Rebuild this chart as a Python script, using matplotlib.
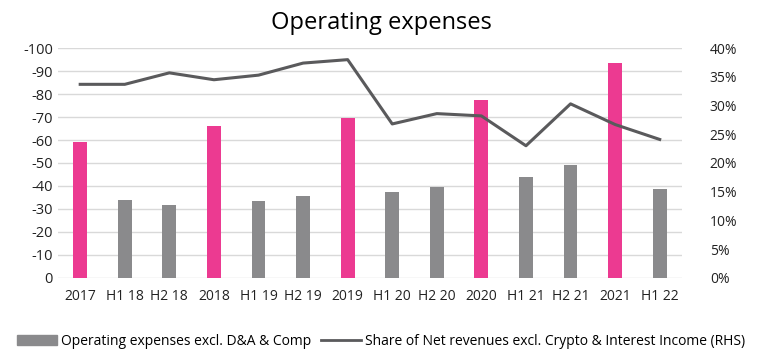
import matplotlib.pyplot as plt
from matplotlib.patches import Patch
from matplotlib.lines import Line2D

plt.rcParams['font.family'] = ['Open Sans', 'DejaVu Sans']
plt.rcParams['axes.unicode_minus'] = False

periods = ["2017", "H1 18", "H2 18", "2018", "H1 19", "H2 19", "2019",
           "H1 20", "H2 20", "2020", "H1 21", "H2 21", "2021", "H1 22"]
opex = [-59, -34, -31.5, -66, -33.5, -35.5, -69.5,
        -37.5, -39.5, -77.5, -44, -49, -93.5, -38.5]
share = [33.7, 33.7, 35.7, 34.5, 35.3, 37.4, 38.0,
         26.8, 28.6, 28.2, 23.0, 30.3, 26.7, 24.1]
full_year = {"2017", "2018", "2019", "2020", "2021"}

pink = "#EC3A91"
grey = "#8A8A8C"
line_col = "#5A5A5C"

fig = plt.figure(figsize=(7.62, 3.49), dpi=100)
ax = fig.add_axes([0.076, 0.204, 0.819, 0.658])
x = range(len(periods))
colors = [pink if p in full_year else grey for p in periods]
ax.bar(x, opex, width=0.31, color=colors, zorder=3)

ax.set_ylim(0, -100)
ax.set_yticks(range(0, -101, -10))
ax.set_xlim(-0.5, len(periods) - 0.5)
ax.set_xticks(list(x))
ax.set_xticklabels(periods)
ax.grid(axis="y", color="#D9D9D9", linewidth=1, zorder=0)
for s in ax.spines.values():
    s.set_visible(False)
ax.tick_params(length=0, labelsize=10.5, colors="#222222")
ax.tick_params(axis="x", pad=8, labelsize=10)

ax2 = ax.twinx()
ax2.plot(list(x), share, color=line_col, linewidth=2.2, zorder=4)
ax2.set_ylim(0, 40)
ax2.set_yticks(range(0, 41, 5))
ax2.set_yticklabels([f"{v}%" for v in range(0, 41, 5)])
for s in ax2.spines.values():
    s.set_visible(False)
ax2.tick_params(length=0, labelsize=10, colors="#222222", pad=20)

fig.text(0.5, 0.935, "Operating expenses", ha="center", va="center", fontsize=17)

handles = [Patch(color=grey), Line2D([0], [0], color=line_col, linewidth=2)]
labels = ["Operating expenses excl. D&A & Comp",
          "Share of Net revenues excl. Crypto & Interest Income (RHS)"]
fig.legend(handles, labels, loc="center", bbox_to_anchor=(0.5, 0.022), ncol=2,
           frameon=False, fontsize=10, handlelength=2.9, handletextpad=0.3,
           columnspacing=0.7)

fig.savefig("out.png", dpi=100)
